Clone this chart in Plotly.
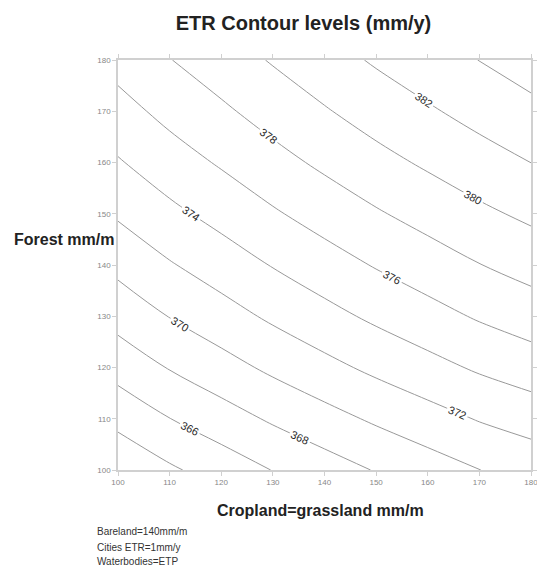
import plotly.graph_objects as go

# Axes values (mm/m)
cropland = [100, 110, 120, 130, 140, 150, 160, 170, 180]
forest = [100, 110, 120, 130, 140, 150, 160, 170, 180]

# ETR (mm/y) estimated at each (forest row, cropland column)
etr_f100 = [362.30, 363.70, 364.88, 366.05, 367.09, 368.11, 369.05, 369.98, 370.70]
etr_f110 = [364.60, 365.97, 367.12, 368.27, 369.30, 370.30, 371.22, 372.13, 372.86]
etr_f120 = [366.76, 368.11, 369.26, 370.40, 371.44, 372.44, 373.36, 374.27, 375.02]
etr_f130 = [368.73, 370.06, 371.20, 372.34, 373.38, 374.38, 375.30, 376.21, 376.97]
etr_f140 = [370.53, 371.84, 372.97, 374.10, 375.14, 376.14, 377.05, 377.95, 378.73]
etr_f150 = [372.25, 373.53, 374.65, 375.77, 376.81, 377.80, 378.71, 379.60, 380.40]
etr_f160 = [373.83, 375.10, 376.21, 377.34, 378.38, 379.38, 380.29, 381.18, 382.01]
etr_f170 = [375.30, 376.56, 377.67, 378.79, 379.84, 380.85, 381.76, 382.66, 383.50]
etr_f180 = [376.70, 377.94, 379.05, 380.16, 381.22, 382.23, 383.14, 384.03, 384.90]

etr = [etr_f100, etr_f110, etr_f120, etr_f130, etr_f140,
       etr_f150, etr_f160, etr_f170, etr_f180]

tick_vals = [100, 110, 120, 130, 140, 150, 160, 170, 180]
tick_text = [str(v) for v in tick_vals]

notes = ["Bareland=140mm/m", "Cities ETR=1mm/y", "Waterbodies=ETP"]

fig = go.Figure()
fig.add_trace(go.Contour(
    x=cropland, y=forest, z=etr,
    contours=dict(coloring="lines", start=364, end=384, size=2,
                  showlabels=True,
                  labelfont=dict(size=11, color="#2a2a2a", family="Liberation Sans, Arial")),
    line=dict(color="#999999", width=1, smoothing=1),
    colorscale=[[0, "#999999"], [1, "#999999"]],
    showscale=False,
    hoverinfo="skip",
))

axis_common = dict(
    range=[100, 180], tickvals=tick_vals, ticktext=tick_text,
    showgrid=False, zeroline=False, automargin=False,
    ticklabeloverflow="allow",
    showline=True, linecolor="#d0d0d0", linewidth=1.5, mirror="ticks",
    ticks="outside", ticklen=4, tickcolor="#d0d0d0",
    tickfont=dict(size=8, color="#888888", family="Liberation Sans, Arial"),
)

fig.update_xaxes(**axis_common)
fig.update_yaxes(**axis_common)

annotations = [
    dict(text="<b>Forest mm/m</b>", xref="paper", yref="paper",
         x=(12 - 118) / 413, y=(470 - 240) / 410, xanchor="left", yanchor="middle",
         showarrow=False, font=dict(size=16, color="#222222", family="Liberation Sans, Arial")),
    dict(text="<b>Cropland=grassland mm/m</b>", xref="paper", yref="paper",
         x=(320 - 118) / 413, y=(470 - 510) / 410, xanchor="center", yanchor="middle",
         showarrow=False, font=dict(size=16, color="#222222", family="Liberation Sans, Arial")),
]
note_y = [531.7, 547.5, 561.7]
for txt, py in zip(notes, note_y):
    annotations.append(dict(text=txt, xref="paper", yref="paper",
                            x=(95 - 118) / 413, y=(470 - py) / 410,
                            xanchor="left", yanchor="middle", showarrow=False,
                            font=dict(size=10, color="#333333", family="Liberation Sans, Arial")))

fig.update_layout(
    width=537, height=571,
    margin=dict(l=118, r=6, t=60, b=101),
    paper_bgcolor="white", plot_bgcolor="white",
    title=dict(text="<b>ETR Contour levels (mm/y)</b>", xref="container", yref="container",
               x=303.5 / 537, y=1 - 22.7 / 571, xanchor="center", yanchor="middle",
               font=dict(size=20, color="#222222", family="Liberation Sans, Arial")),
    annotations=annotations,
    showlegend=False,
)

fig.write_html("out.html")
